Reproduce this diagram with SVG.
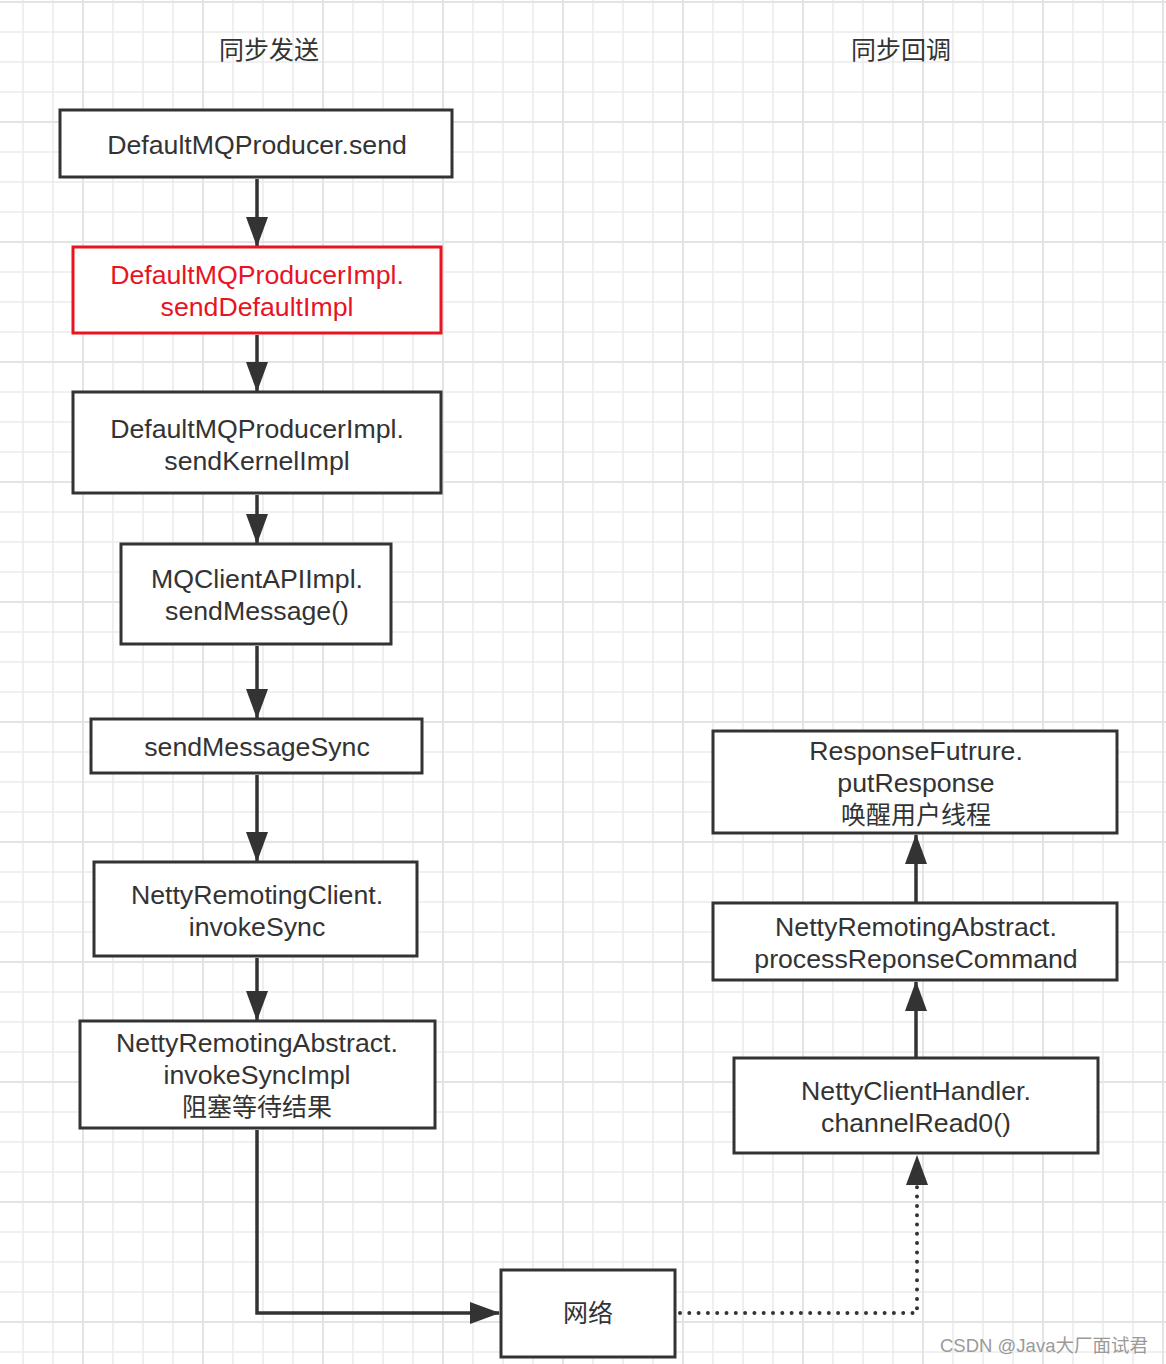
<svg xmlns="http://www.w3.org/2000/svg" width="1166" height="1364" viewBox="0 0 1166 1364">
<style>
.box{fill:#fff;stroke:#333;stroke-width:3}
.red{fill:#fff;stroke:#e8141f;stroke-width:3}
.t{font-family:"Liberation Sans","Noto Sans CJK SC",sans-serif;font-size:26.7px;fill:#333;text-anchor:middle}
.c{font-family:"Noto Sans CJK SC","Liberation Sans",sans-serif;font-size:25px;fill:#333;text-anchor:middle}
.rt{fill:#e8141f}
.ln{fill:none;stroke:#333;stroke-width:3.5}
.dot{fill:none;stroke:#333;stroke-width:4;stroke-linecap:round;stroke-dasharray:0 9.3}
.wm{font-family:"Liberation Sans","Noto Sans CJK SC",sans-serif;font-size:18.5px;fill:#9a9a9a}
</style>
<defs>
<pattern id="minor" patternUnits="userSpaceOnUse" x="22" y="1" width="30" height="30">
<path d="M0,1 H30 M1,0 V30" stroke="#ebebeb" stroke-width="1.6" fill="none"/>
</pattern>
<pattern id="major" patternUnits="userSpaceOnUse" x="82" y="1" width="120" height="120">
<path d="M0,1 H120 M1,0 V120" stroke="#e4e4e4" stroke-width="1.8" fill="none"/>
</pattern>
<marker id="ah" markerUnits="userSpaceOnUse" markerWidth="30" markerHeight="22" viewBox="0 0 30 22" refX="29" refY="11" orient="auto">
<path d="M0,0 L30,11 L0,22 z" fill="#333"/>
</marker>
</defs>
<rect width="1166" height="1364" fill="#fff"/>
<rect width="1166" height="1364" fill="url(#minor)"/>
<rect width="1166" height="1364" fill="url(#major)"/>

<text class="c" x="269" y="59">同步发送</text>
<text class="c" x="901" y="59">同步回调</text>

<g id="connectors">
<path class="ln" d="M257,179 V246" marker-end="url(#ah)"/>
<path class="ln" d="M257,335 V391" marker-end="url(#ah)"/>
<path class="ln" d="M257,495 V543" marker-end="url(#ah)"/>
<path class="ln" d="M257,646 V718" marker-end="url(#ah)"/>
<path class="ln" d="M257,775 V861" marker-end="url(#ah)"/>
<path class="ln" d="M257,958 V1020" marker-end="url(#ah)"/>
<path class="ln" d="M257,1130 V1313 H499" marker-end="url(#ah)"/>
<path class="ln" d="M916,902 V835" marker-end="url(#ah)"/>
<path class="ln" d="M916,1057 V982" marker-end="url(#ah)"/>
<path class="dot" d="M680,1313 H917 V1186"/>
<path d="M917,1190 V1156" stroke="#333" stroke-width="0.01" fill="none" marker-end="url(#ah)"/>
</g>

<g id="n1"><rect class="box" x="60" y="110" width="392" height="67"/>
<text class="t" x="257" y="154">DefaultMQProducer.send</text></g>

<g id="n2"><rect class="red" x="73" y="247" width="368" height="86"/>
<text class="t rt" x="257" y="284">DefaultMQProducerImpl.</text>
<text class="t rt" x="257" y="316">sendDefaultImpl</text></g>

<g id="n3"><rect class="box" x="73" y="392" width="368" height="101"/>
<text class="t" x="257" y="438">DefaultMQProducerImpl.</text>
<text class="t" x="257" y="470">sendKernelImpl</text></g>

<g id="n4"><rect class="box" x="121" y="544" width="270" height="100"/>
<text class="t" x="257" y="588">MQClientAPIImpl.</text>
<text class="t" x="257" y="620">sendMessage()</text></g>

<g id="n5"><rect class="box" x="91" y="719" width="331" height="54"/>
<text class="t" x="257" y="756">sendMessageSync</text></g>

<g id="n6"><rect class="box" x="94" y="862" width="323" height="94"/>
<text class="t" x="257" y="904">NettyRemotingClient.</text>
<text class="t" x="257" y="936">invokeSync</text></g>

<g id="n7"><rect class="box" x="80" y="1021" width="355" height="107"/>
<text class="t" x="257" y="1052">NettyRemotingAbstract.</text>
<text class="t" x="257" y="1084">invokeSyncImpl</text>
<text class="c" x="257" y="1116">阻塞等待结果</text></g>

<g id="n8"><rect class="box" x="501" y="1270" width="174" height="87"/>
<text class="c" x="588" y="1322">网络</text></g>

<g id="n9"><rect class="box" x="713" y="731" width="404" height="102"/>
<text class="t" x="916" y="760">ResponseFutrure.</text>
<text class="t" x="916" y="792">putResponse</text>
<text class="c" x="916" y="824">唤醒用户线程</text></g>

<g id="n10"><rect class="box" x="713" y="903" width="404" height="77"/>
<text class="t" x="916" y="936">NettyRemotingAbstract.</text>
<text class="t" x="916" y="968">processReponseCommand</text></g>

<g id="n11"><rect class="box" x="734" y="1058" width="364" height="95"/>
<text class="t" x="916" y="1100">NettyClientHandler.</text>
<text class="t" x="916" y="1132">channelRead0()</text></g>

<text class="wm" x="940" y="1352">CSDN @Java大厂面试君</text>
</svg>
